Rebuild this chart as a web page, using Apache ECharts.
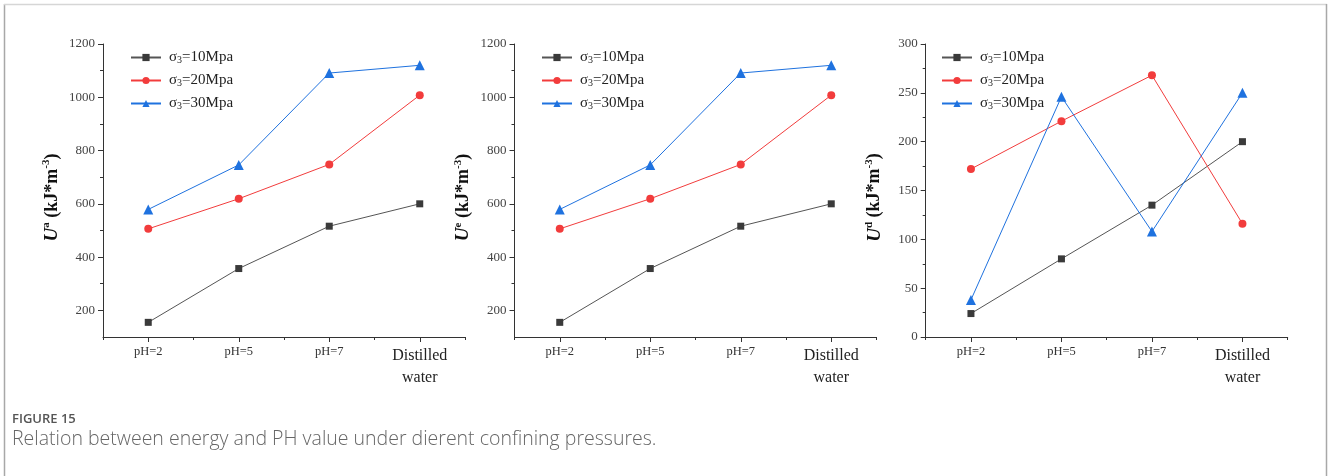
<!DOCTYPE html>
<html><head><meta charset="utf-8">
<script src="https://cdn.jsdelivr.net/npm/echarts@6/dist/echarts.min.js"></script>
<style>html,body{margin:0;padding:0;background:#fff}#c{width:1328px;height:476px}</style>
</head><body><div id="c"></div>
<script>
// ---- data ----
const categories = ['pH=2', 'pH=5', 'pH=7', 'Distilled water'];
const seriesNames = ['σ3=10Mpa', 'σ3=20Mpa', 'σ3=30Mpa'];
// Chart a
const ua10 = [155, 357, 516, 600];
const ua20 = [506, 619, 748, 1008];
const ua30 = [579, 746, 1091, 1120];
// Chart e
const ue10 = [155, 357, 516, 600];
const ue20 = [506, 619, 748, 1008];
const ue30 = [579, 746, 1091, 1120];
// Chart d
const ud10 = [24, 80, 135, 200];
const ud20 = [172, 221, 268, 116];
const ud30 = [38, 246, 108, 250];
// tick labels
const yTicksAE = [200, 400, 600, 800, 1000, 1200];
const yMinorAE = [300, 500, 700, 900, 1100];
const yTicksD = [0, 50, 100, 150, 200, 250, 300];
const yMinorD = [25, 75, 125, 175, 225, 275];

const SERIF = 'Liberation Serif';
const colors = ['#3a3a3a', '#f23c3c', '#1f72df'];
const symbols = ['rect', 'circle', 'triangle'];
const symSizes = [7, 8, 10];
const lineColors = ['#555555', '#f23c3c', '#1f72df'];

const grids = [
  {left: 103, top: 44, width: 362, height: 293},
  {left: 514.5, top: 44, width: 362, height: 293},
  {left: 925.7, top: 44, width: 362, height: 293}
];
const yCfg = [
  {min: 100, max: 1200, ticks: yTicksAE, minor: yMinorAE, sup: 'a'},
  {min: 100, max: 1200, ticks: yTicksAE, minor: yMinorAE, sup: 'e'},
  {min: 0, max: 300, ticks: yTicksD, minor: yMinorD, sup: 'd'}
];
const dataSets = [[ua10, ua20, ua30], [ue10, ue20, ue30], [ud10, ud20, ud30]];

const xAxes = [], yAxes = [], series = [], legends = [];
const legendLeft = [125, 536, 936];
const axisColor = '#333';

grids.forEach((g, gi) => {
  xAxes.push({
    type: 'category', gridIndex: gi, position: 'bottom', data: categories, boundaryGap: true,
    axisLine: {show: true, lineStyle: {color: axisColor, width: 1}},
    axisTick: {show: true, alignWithLabel: true, interval: 0, length: 5, lineStyle: {color: axisColor}},
    axisLabel: {
      margin: 8, color: '#333', interval: 0,
      formatter: v => v === 'Distilled water' ? '{big|Distilled}\n{big|water}' : '{s|' + v + '}',
      rich: {
        s: {fontFamily: SERIF, fontSize: 12.5, lineHeight: 14, color: '#333'},
        big: {fontFamily: SERIF, fontSize: 16, lineHeight: 22, color: '#222'}
      }
    },
    splitLine: {show: false}
  });
  xAxes.push({
    type: 'category', gridIndex: gi, position: 'bottom', data: categories, boundaryGap: true,
    axisLine: {show: false},
    axisTick: {show: true, alignWithLabel: false, interval: 0, length: 3, lineStyle: {color: axisColor}},
    axisLabel: {show: false},
    splitLine: {show: false}
  });
  const yc = yCfg[gi];
  yAxes.push({
    type: 'value', gridIndex: gi, position: 'left', min: yc.min, max: yc.max,
    axisLine: {show: true, lineStyle: {color: axisColor, width: 1}},
    axisTick: {show: true, length: 5, customValues: yc.ticks, lineStyle: {color: axisColor}},
    axisLabel: {customValues: yc.ticks, formatter: v => String(v), margin: 8, fontFamily: SERIF, fontSize: 13, color: '#444'},
    splitLine: {show: false},
    name: '{i|U}{sup|' + yc.sup + '}{b| (kJ*m}{sup|-3}{b|)}',
    nameLocation: 'middle', nameGap: 40, nameRotate: 90,
    nameTextStyle: {
      fontFamily: SERIF, fontWeight: 'bold', fontSize: 18, color: '#111', padding: [0, 14, 0, 0],
      rich: {
        i: {fontFamily: SERIF, fontStyle: 'italic', fontWeight: 'bold', fontSize: 19, lineHeight: 22, color: '#111'},
        sup: {fontFamily: SERIF, fontWeight: 'bold', fontSize: 11, lineHeight: 12, verticalAlign: 'top', color: '#111'},
        b: {fontFamily: SERIF, fontWeight: 'bold', fontSize: 18, lineHeight: 22, color: '#111'}
      }
    }
  });
  yAxes.push({
    type: 'value', gridIndex: gi, position: 'left', min: yc.min, max: yc.max,
    axisLine: {show: false},
    axisTick: {show: true, length: 3, customValues: yc.minor, lineStyle: {color: axisColor}},
    axisLabel: {show: false},
    splitLine: {show: false}
  });
  dataSets[gi].forEach((arr, si) => {
    series.push({
      name: seriesNames[si], type: 'line',
      xAxisIndex: gi * 2, yAxisIndex: gi * 2,
      data: arr,
      symbol: symbols[si], symbolSize: symSizes[si], showAllSymbol: true,
      itemStyle: {color: colors[si]},
      lineStyle: {color: lineColors[si], width: 1},
      emphasis: {disabled: true},
      animation: false
    });
  });
  legends.push({
    data: seriesNames, orient: 'vertical', left: legendLeft[gi], top: 45,
    itemWidth: 30, itemHeight: 9, itemGap: 7.5,
    formatter: n => '{a|σ}{s|3}{a|' + n.slice(2) + '}',
    textStyle: {
      fontFamily: SERIF, fontSize: 15, color: '#222', padding: [0, 0, 0, 3],
      rich: {
        a: {fontFamily: SERIF, fontSize: 15, lineHeight: 16, color: '#222'},
        s: {fontFamily: SERIF, fontSize: 10, lineHeight: 9, verticalAlign: 'bottom', color: '#222'}
      }
    },
    selectedMode: false
  });
});

const chart = echarts.init(document.getElementById('c'), null, {renderer: 'canvas'});
chart.setOption({
  backgroundColor: '#fff',
  animation: false,
  grid: grids,
  xAxis: xAxes,
  yAxis: yAxes,
  legend: legends,
  series: series,
  graphic: [
    {type: 'line', shape: {x1: 4.5, y1: 4, x2: 4.5, y2: 476}, style: {stroke: '#a8a8a8', lineWidth: 1.5}},
    {type: 'line', shape: {x1: 4, y1: 4.5, x2: 1327, y2: 4.5}, style: {stroke: '#d6d6d6', lineWidth: 1.5}},
    {type: 'line', shape: {x1: 1326.5, y1: 4, x2: 1326.5, y2: 476}, style: {stroke: '#a8a8a8', lineWidth: 1.5}},
    {type: 'text', left: 12, top: 413, style: {text: 'FIGURE 15', font: '600 13px "Open Sans", sans-serif', fill: '#555'}},
    {type: 'text', left: 12, top: 429, style: {text: 'Relation between energy and PH value under dierent confining pressures.', font: '300 19.5px "Open Sans", sans-serif', fill: '#666'}}
  ]
});
</script></body></html>
